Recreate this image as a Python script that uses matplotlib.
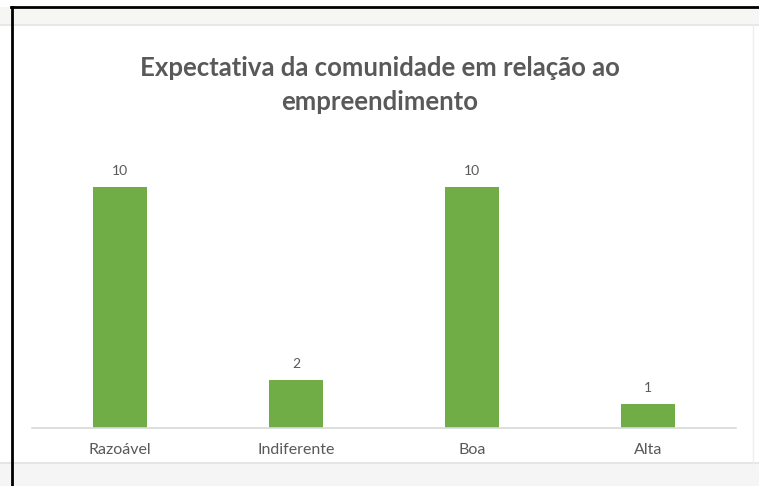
# Modules
import matplotlib
matplotlib.use("Agg")
from matplotlib import pyplot as plt
from matplotlib.patches import Rectangle
from matplotlib.lines import Line2D

# Data
Categories = ["Razoável", "Indiferente", "Boa", "Alta"]
Values = [10, 2, 10, 1]

Title = "Expectativa da comunidade em relação ao\nempreendimento"
Bar_Color = "#70AD47"
Text_Color = "#595959"

plt.rcParams['font.family'] = ['Lato', 'DejaVu Sans']

W, H = 759, 486
fig = plt.figure(figsize=(W / 100, H / 100), dpi=100)

## Screenshot frame: grey bands and black border
fig.patches.append(Rectangle((0, 1 - 25 / H), 1, 18 / H, transform=fig.transFigure,
                             facecolor="#f6f6f4", edgecolor="none", zorder=0))
fig.patches.append(Rectangle((0, 0), 1, 23 / H, transform=fig.transFigure,
                             facecolor="#f5f5f5", edgecolor="none", zorder=0))
fig.lines.append(Line2D([0, 1], [1 - 25.5 / H] * 2, transform=fig.transFigure,
                        color="#e4e4e2", lw=1.2))
fig.lines.append(Line2D([0, 1], [23.5 / H] * 2, transform=fig.transFigure,
                        color="#e2e2e2", lw=1.2))
fig.lines.append(Line2D([753 / W] * 2, [23 / H, 1 - 25 / H], transform=fig.transFigure,
                        color="#eeeeee", lw=1))
fig.lines.append(Line2D([11.5 / W] * 2, [0, 1 - 7 / H], transform=fig.transFigure,
                        color="black", lw=2))
fig.lines.append(Line2D([11 / W, 1], [1 - 7.5 / H] * 2, transform=fig.transFigure,
                        color="black", lw=2))

## Bar chart
ax = fig.add_axes([32 / W, 58 / H, 704 / W, 289 / H])
Bars = ax.bar(Categories, Values, width=0.31, color=Bar_Color)
ax.bar_label(Bars, padding=7, fontsize=10, color=Text_Color)
ax.set_xlim(-0.5, len(Categories) - 0.5)
ax.set_ylim(0, 12)
ax.set_yticks([])
for side in ["top", "right", "left"]:
    ax.spines[side].set_visible(False)
ax.spines["bottom"].set_color("#d9d9d9")
ax.spines["bottom"].set_linewidth(1.2)
ax.tick_params(axis="x", length=0, pad=11, labelsize=11.5, labelcolor=Text_Color)
ax.patch.set_alpha(0)

## Title
fig.text(380 / W, 1 - 85 / H, Title, ha="center", va="center", fontsize=18.5,
         fontweight="bold", color=Text_Color, linespacing=1.5)

## Save
fig.savefig("out.png", dpi=100)
